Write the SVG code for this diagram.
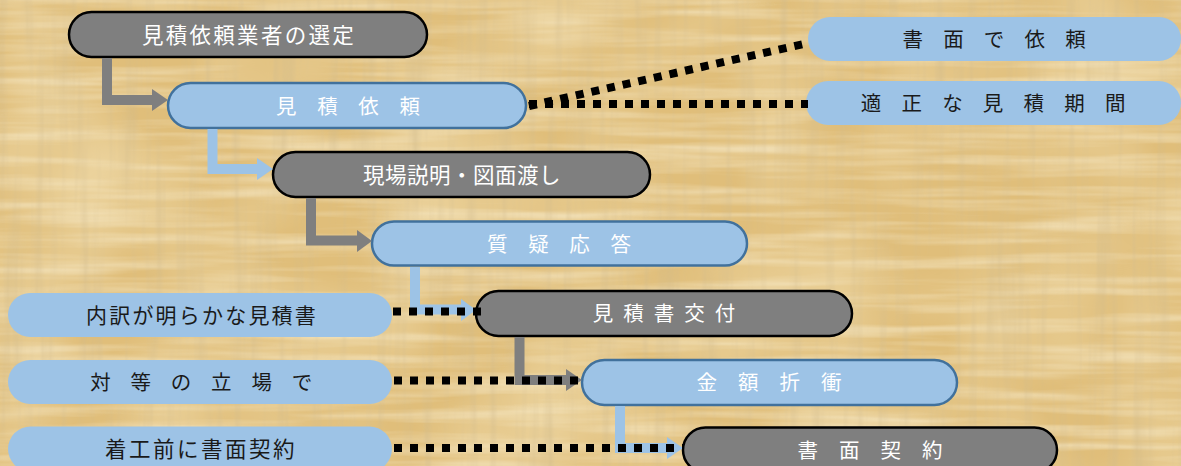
<svg xmlns="http://www.w3.org/2000/svg" width="1181" height="466" viewBox="0 0 1181 466">
<defs>
<style>
.g{fill:#7F7F7F;stroke:#000;stroke-width:2.5}
.b{fill:#9DC3E6;stroke:#41719C;stroke-width:2.5}
.n{fill:#9DC3E6}
.t{font-family:"Noto Sans CJK JP","Noto Sans CJK SC",sans-serif;text-anchor:middle}
.w{fill:#FFFFFF}
.k{fill:#1A1A1A}
.ag{fill:none;stroke:#7F7F7F;stroke-width:10;stroke-linejoin:miter}
.ab{fill:none;stroke:#9DC3E6;stroke-width:10;stroke-linejoin:miter}
.hg{fill:#7F7F7F}
.hb{fill:#9DC3E6}
.d{fill:none;stroke:#000;stroke-width:8;stroke-dasharray:8 8}
</style>
<filter id="tex" x="0" y="0" width="1181" height="466" filterUnits="userSpaceOnUse">
<feTurbulence type="fractalNoise" baseFrequency="0.005 0.09" numOctaves="3" seed="7" result="h"/>
<feColorMatrix in="h" type="matrix" values="0 0 0 0 0.97  0 0 0 0 0.9  0 0 0 0 0.7  1.1 0 0 0 -0.45" result="hl"/>
<feTurbulence type="fractalNoise" baseFrequency="0.09 0.005" numOctaves="3" seed="11" result="v"/>
<feColorMatrix in="v" type="matrix" values="0 0 0 0 0.65  0 0 0 0 0.5  0 0 0 0 0.25  1.1 0 0 0 -0.5" result="vl"/>
<feTurbulence type="fractalNoise" baseFrequency="0.008" numOctaves="2" seed="3" result="c"/>
<feColorMatrix in="c" type="matrix" values="0 0 0 0 0.96  0 0 0 0 0.86  0 0 0 0 0.6  0.9 0 0 0 -0.35" result="cl"/>
<feMerge><feMergeNode in="cl"/><feMergeNode in="hl"/><feMergeNode in="vl"/></feMerge>
</filter>
</defs>
<rect x="0" y="0" width="1181" height="466" fill="#E0BE7A"/>
<rect x="0" y="0" width="1181" height="466" fill="#fff" filter="url(#tex)"/>

<g id="node-senntei">
<rect class="g" x="69" y="12" width="358" height="45" rx="22.5"/>
<text class="t w" x="249" y="42.5" font-size="21.5" letter-spacing="2.3">見積依頼業者の選定</text>
</g>
<g id="node-irai">
<rect class="b" x="168" y="83" width="358" height="45" rx="22.5"/>
<text class="t w" x="352" y="113.5" font-size="20.5" letter-spacing="8" xml:space="preserve">見 積 依 頼</text>
</g>
<g id="node-genba">
<rect class="g" x="273" y="152" width="377" height="45" rx="22.5"/>
<text class="t w" x="462" y="183" font-size="21.5" letter-spacing="0.5">現場説明・図面渡し</text>
</g>
<g id="node-shitsugi">
<rect class="b" x="372" y="221.5" width="375" height="44" rx="22"/>
<text class="t w" x="563" y="251.5" font-size="20.5" letter-spacing="8" xml:space="preserve">質 疑 応 答</text>
</g>
<g id="node-kofu">
<rect class="g" x="476" y="291" width="376" height="45" rx="22.5"/>
<text class="t w" x="669" y="321" font-size="20.5" letter-spacing="10">見積書交付</text>
</g>
<g id="node-sesshou">
<rect class="b" x="582" y="360" width="375" height="45" rx="22.5"/>
<text class="t w" x="773" y="390" font-size="20.5" letter-spacing="8.2" xml:space="preserve">金 額 折 衝</text>
</g>
<g id="node-keiyaku">
<rect class="g" x="683" y="427.5" width="374" height="45" rx="22.5"/>
<text class="t w" x="874" y="458" font-size="20.5" letter-spacing="8.2" xml:space="preserve">書 面 契 約</text>
</g>

<g id="note-shomen">
<rect class="n" x="808" y="17" width="373" height="44" rx="22"/>
<text class="t k" x="998" y="47" font-size="20.5" letter-spacing="7.8" xml:space="preserve">書 面 で 依 頼</text>
</g>
<g id="note-kikan">
<rect class="n" x="806" y="81" width="375" height="44" rx="22"/>
<text class="t k" x="997" y="111" font-size="20.5" letter-spacing="7.8" xml:space="preserve">適 正 な 見 積 期 間</text>
</g>
<g id="note-uchiwake">
<rect class="n" x="8" y="293" width="384" height="44" rx="22"/>
<text class="t k" x="202" y="323" font-size="21" letter-spacing="2.2">内訳が明らかな見積書</text>
</g>
<g id="note-taito">
<rect class="n" x="8" y="360" width="384" height="44" rx="22"/>
<text class="t k" x="205" y="390" font-size="20.5" letter-spacing="7.6" xml:space="preserve">対 等 の 立 場 で</text>
</g>
<g id="note-chakko">
<rect class="n" x="8" y="426.5" width="384" height="45" rx="22.5"/>
<text class="t k" x="201" y="456.5" font-size="21.5" letter-spacing="2.5">着工前に書面契約</text>
</g>

<g id="connectors">
<path class="ag" d="M107 58 V100 H153"/>
<polygon class="hg" points="152,89 168,100 152,111"/>
<path class="ab" d="M212.5 129 V169 H258"/>
<polygon class="hb" points="257,158 273,169 257,180"/>
<path class="ag" d="M311 198 V240.5 H358"/>
<polygon class="hg" points="357,230 372,241 357,252"/>
<path class="ab" d="M415 267 V309.5 H462"/>
<polygon class="hb" points="461,299 476,310 461,321"/>
<path class="ag" d="M519.5 337 V380 H567"/>
<polygon class="hg" points="566,369 582,380 566,391"/>
<path class="ab" d="M620 406 V448 H668"/>
<polygon class="hb" points="667,437 683,448 667,459"/>
<path class="d" d="M529 104 H808"/>
<path class="d" d="M529 106 L808 43"/>
<path class="d" d="M393 311.5 H485"/>
<path class="d" d="M394 380.5 H582"/>
<path class="d" d="M394 448 H684"/>
</g>
</svg>
